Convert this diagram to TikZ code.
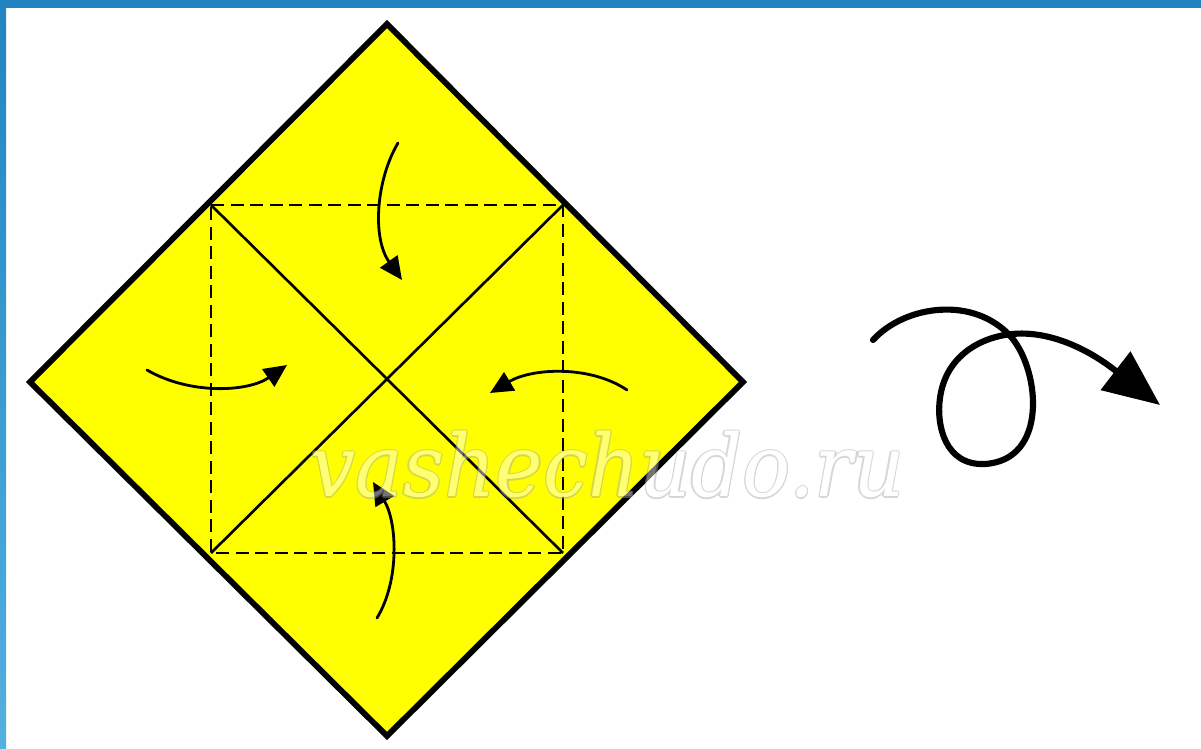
\documentclass[tikz,border=0pt]{standalone}
\usepackage{fontspec}
\newfontfamily\wmfont{DejaVu Serif}
\usetikzlibrary{arrows.meta}
\definecolor{paper}{HTML}{FFFF00}
\definecolor{barblue}{HTML}{2383C1}
\definecolor{barlight}{HTML}{52B1E0}
\begin{document}
\begin{tikzpicture}[x=0.02cm,y=-0.02cm,
  edge/.style={line width=3.3pt,line join=miter,draw=black},
  crease/.style={line width=1.5pt,draw=black},
  valley/.style={line width=1.6pt,draw=black,dash pattern=on 7.5pt off 3.6pt},
  foldarrow/.style={line width=1.6pt,draw=black,line cap=round,-{Triangle[length=13pt,width=12pt]}},
  looparrow/.style={line width=3.5pt,draw=black,line cap=round,-{Triangle[length=32pt,width=27pt]}},
  wm/.style={anchor=base west,inner sep=0pt,xscale=0.93,font=\wmfont\itshape\fontsize{49}{49}\selectfont}]
\useasboundingbox (0,0) rectangle (1201,749);
\fill[white] (0,0) rectangle (1201,749);
% blue frame
\shade[top color=barblue,bottom color=barlight] (0,0) rectangle (6,749);
\fill[barblue] (0,0) rectangle (1201,8);
% paper square
\coordinate (T) at (387,24);
\coordinate (R) at (743,382);
\coordinate (B) at (387,736);
\coordinate (L) at (30,382);
\coordinate (q1) at (211,205);
\coordinate (q2) at (563,205);
\coordinate (q3) at (563,553);
\coordinate (q4) at (211,553);
\fill[paper] (T) -- (R) -- (B) -- (L) -- cycle;
\draw[crease] (q1) -- (q3);
\draw[crease] (q2) -- (q4);
\draw[valley] (q1) -- (q2) -- (q3) -- (q4) -- cycle;
\draw[edge] (T) -- (R) -- (B) -- (L) -- cycle;
% fold arrows
\draw[foldarrow] (398,143) .. controls (376,180) and (372,238) .. (402,280);
\draw[foldarrow] (377,618) .. controls (400,580) and (397,522) .. (373,482);
\draw[foldarrow] (147,370) .. controls (190,395) and (248,392) .. (287,365);
\draw[foldarrow] (627,390) .. controls (590,365) and (532,368) .. (490,393);
% turn-over loop arrow
\draw[looparrow] (873,340) .. controls (905,305) and (975,295) .. (1012,338)
  .. controls (1040,372) and (1048,460) .. (985,464)
  .. controls (945,466) and (936,425) .. (940,398)
  .. controls (945,360) and (975,338) .. (1012,334)
  .. controls (1065,329) and (1112,368) .. (1160,405);
% watermark
\begin{scope}[transparency group,opacity=0.45]
  \foreach \dx/\dy in {1.3/0,-1.3/0,0/1.3,0/-1.3,0.9/0.9,-0.9/0.9,0.9/-0.9,-0.9/-0.9}
    \node[wm,text=gray!70] at (310+\dx,497+\dy) {vashechudo.ru};
  \node[wm,text=white] (wmk) at (310,497) {vashechudo.ru};
\end{scope}
\end{tikzpicture}
\end{document}
